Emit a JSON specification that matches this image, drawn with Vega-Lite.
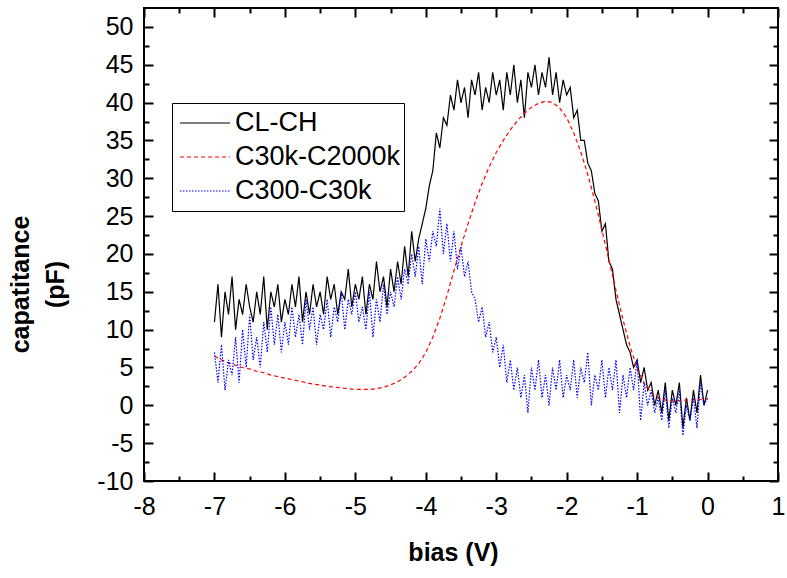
{
"$schema": "https://vega.github.io/schema/vega-lite/v6.json",
"autosize": {"type": "none"},
"width": 634,
"height": 473,
"padding": {"left": 144, "top": 8, "right": 9, "bottom": 97},
"background": "white",
"config": {
  "view": {"stroke": "black", "strokeWidth": 2},
  "font": "Liberation Sans",
  "axis": {"grid": false, "labelColor": "black", "labelFont": "Liberation Sans", "labelFontSize": 25, "titleFont": "Liberation Sans", "titleColor": "black", "labelFlush": false, "labelOverlap": false, "labelBound": false}
},
"data": {"values": [
{"s":"CL-CH","x":-7,"c":11},{"s":"CL-CH","x":-6.95,"c":16},{"s":"CL-CH","x":-6.9,"c":9},{"s":"CL-CH","x":-6.85,"c":15},{"s":"CL-CH","x":-6.8,"c":12},{"s":"CL-CH","x":-6.75,"c":17},{"s":"CL-CH","x":-6.7,"c":10},{"s":"CL-CH","x":-6.65,"c":14},{"s":"CL-CH","x":-6.6,"c":12},{"s":"CL-CH","x":-6.55,"c":16},
{"s":"CL-CH","x":-6.5,"c":13},{"s":"CL-CH","x":-6.45,"c":11},{"s":"CL-CH","x":-6.4,"c":15},{"s":"CL-CH","x":-6.35,"c":12},{"s":"CL-CH","x":-6.3,"c":17},{"s":"CL-CH","x":-6.25,"c":10},{"s":"CL-CH","x":-6.2,"c":15},{"s":"CL-CH","x":-6.15,"c":13},{"s":"CL-CH","x":-6.1,"c":16},{"s":"CL-CH","x":-6.05,"c":11},
{"s":"CL-CH","x":-6,"c":14},{"s":"CL-CH","x":-5.95,"c":12},{"s":"CL-CH","x":-5.9,"c":16},{"s":"CL-CH","x":-5.85,"c":13},{"s":"CL-CH","x":-5.8,"c":17},{"s":"CL-CH","x":-5.75,"c":11},{"s":"CL-CH","x":-5.7,"c":15},{"s":"CL-CH","x":-5.65,"c":12},{"s":"CL-CH","x":-5.6,"c":16},{"s":"CL-CH","x":-5.55,"c":13},
{"s":"CL-CH","x":-5.5,"c":15},{"s":"CL-CH","x":-5.45,"c":12},{"s":"CL-CH","x":-5.4,"c":17},{"s":"CL-CH","x":-5.35,"c":14},{"s":"CL-CH","x":-5.3,"c":16},{"s":"CL-CH","x":-5.25,"c":12},{"s":"CL-CH","x":-5.2,"c":15},{"s":"CL-CH","x":-5.15,"c":14},{"s":"CL-CH","x":-5.1,"c":18},{"s":"CL-CH","x":-5.05,"c":13},
{"s":"CL-CH","x":-5,"c":16},{"s":"CL-CH","x":-4.95,"c":14},{"s":"CL-CH","x":-4.9,"c":17},{"s":"CL-CH","x":-4.85,"c":12},{"s":"CL-CH","x":-4.8,"c":16},{"s":"CL-CH","x":-4.75,"c":14},{"s":"CL-CH","x":-4.7,"c":19},{"s":"CL-CH","x":-4.65,"c":15},{"s":"CL-CH","x":-4.6,"c":17},{"s":"CL-CH","x":-4.55,"c":13},
{"s":"CL-CH","x":-4.5,"c":18},{"s":"CL-CH","x":-4.45,"c":15},{"s":"CL-CH","x":-4.4,"c":19},{"s":"CL-CH","x":-4.35,"c":16},{"s":"CL-CH","x":-4.3,"c":21},{"s":"CL-CH","x":-4.25,"c":17},{"s":"CL-CH","x":-4.2,"c":23},{"s":"CL-CH","x":-4.15,"c":19},{"s":"CL-CH","x":-4.1,"c":22},{"s":"CL-CH","x":-4.05,"c":24},
{"s":"CL-CH","x":-4,"c":26},{"s":"CL-CH","x":-3.95,"c":29},{"s":"CL-CH","x":-3.9,"c":31},{"s":"CL-CH","x":-3.85,"c":36},{"s":"CL-CH","x":-3.8,"c":34},{"s":"CL-CH","x":-3.75,"c":38},{"s":"CL-CH","x":-3.7,"c":37},{"s":"CL-CH","x":-3.65,"c":41},{"s":"CL-CH","x":-3.6,"c":39},{"s":"CL-CH","x":-3.55,"c":43},
{"s":"CL-CH","x":-3.5,"c":40},{"s":"CL-CH","x":-3.45,"c":42},{"s":"CL-CH","x":-3.4,"c":38},{"s":"CL-CH","x":-3.35,"c":43},{"s":"CL-CH","x":-3.3,"c":41},{"s":"CL-CH","x":-3.25,"c":44},{"s":"CL-CH","x":-3.2,"c":39},{"s":"CL-CH","x":-3.15,"c":42},{"s":"CL-CH","x":-3.1,"c":40},{"s":"CL-CH","x":-3.05,"c":44},
{"s":"CL-CH","x":-3,"c":41},{"s":"CL-CH","x":-2.95,"c":43},{"s":"CL-CH","x":-2.9,"c":39},{"s":"CL-CH","x":-2.85,"c":44},{"s":"CL-CH","x":-2.8,"c":41},{"s":"CL-CH","x":-2.75,"c":45},{"s":"CL-CH","x":-2.7,"c":40},{"s":"CL-CH","x":-2.65,"c":43},{"s":"CL-CH","x":-2.6,"c":38},{"s":"CL-CH","x":-2.55,"c":44},
{"s":"CL-CH","x":-2.5,"c":42},{"s":"CL-CH","x":-2.45,"c":45},{"s":"CL-CH","x":-2.4,"c":41},{"s":"CL-CH","x":-2.35,"c":44},{"s":"CL-CH","x":-2.3,"c":42},{"s":"CL-CH","x":-2.25,"c":46},{"s":"CL-CH","x":-2.2,"c":41},{"s":"CL-CH","x":-2.15,"c":44},{"s":"CL-CH","x":-2.1,"c":40},{"s":"CL-CH","x":-2.05,"c":43},
{"s":"CL-CH","x":-2,"c":41},{"s":"CL-CH","x":-1.95,"c":42},{"s":"CL-CH","x":-1.9,"c":38},{"s":"CL-CH","x":-1.85,"c":39},{"s":"CL-CH","x":-1.8,"c":35},{"s":"CL-CH","x":-1.75,"c":35},{"s":"CL-CH","x":-1.7,"c":32},{"s":"CL-CH","x":-1.65,"c":31},{"s":"CL-CH","x":-1.6,"c":28},{"s":"CL-CH","x":-1.55,"c":27},
{"s":"CL-CH","x":-1.5,"c":23},{"s":"CL-CH","x":-1.45,"c":24},{"s":"CL-CH","x":-1.4,"c":19},{"s":"CL-CH","x":-1.35,"c":18},{"s":"CL-CH","x":-1.3,"c":14},{"s":"CL-CH","x":-1.25,"c":12},{"s":"CL-CH","x":-1.2,"c":10},{"s":"CL-CH","x":-1.15,"c":8},{"s":"CL-CH","x":-1.1,"c":7},{"s":"CL-CH","x":-1.05,"c":5},
{"s":"CL-CH","x":-1,"c":6},{"s":"CL-CH","x":-0.95,"c":3},{"s":"CL-CH","x":-0.9,"c":5},{"s":"CL-CH","x":-0.85,"c":2},{"s":"CL-CH","x":-0.8,"c":3},{"s":"CL-CH","x":-0.75,"c":0},{"s":"CL-CH","x":-0.7,"c":2},{"s":"CL-CH","x":-0.65,"c":-1},{"s":"CL-CH","x":-0.6,"c":3},{"s":"CL-CH","x":-0.55,"c":-2},
{"s":"CL-CH","x":-0.5,"c":2},{"s":"CL-CH","x":-0.45,"c":0},{"s":"CL-CH","x":-0.4,"c":3},{"s":"CL-CH","x":-0.35,"c":-3},{"s":"CL-CH","x":-0.3,"c":1},{"s":"CL-CH","x":-0.25,"c":-2},{"s":"CL-CH","x":-0.2,"c":2},{"s":"CL-CH","x":-0.15,"c":-1},{"s":"CL-CH","x":-0.1,"c":4},{"s":"CL-CH","x":-0.05,"c":0},
{"s":"CL-CH","x":0,"c":2},
{"s":"C30k-C2000k","x":-7,"c":6.5},{"s":"C30k-C2000k","x":-6.9,"c":6.0},{"s":"C30k-C2000k","x":-6.8,"c":5.6},{"s":"C30k-C2000k","x":-6.7,"c":5.3},{"s":"C30k-C2000k","x":-6.6,"c":5.0},{"s":"C30k-C2000k","x":-6.5,"c":4.8},{"s":"C30k-C2000k","x":-6.4,"c":4.5},{"s":"C30k-C2000k","x":-6.3,"c":4.3},{"s":"C30k-C2000k","x":-6.2,"c":4.0},{"s":"C30k-C2000k","x":-6.1,"c":3.8},
{"s":"C30k-C2000k","x":-6,"c":3.6},{"s":"C30k-C2000k","x":-5.9,"c":3.4},{"s":"C30k-C2000k","x":-5.8,"c":3.2},{"s":"C30k-C2000k","x":-5.7,"c":3.0},{"s":"C30k-C2000k","x":-5.6,"c":2.8},{"s":"C30k-C2000k","x":-5.5,"c":2.7},{"s":"C30k-C2000k","x":-5.4,"c":2.5},{"s":"C30k-C2000k","x":-5.3,"c":2.4},{"s":"C30k-C2000k","x":-5.2,"c":2.3},{"s":"C30k-C2000k","x":-5.1,"c":2.2},
{"s":"C30k-C2000k","x":-5,"c":2.1},{"s":"C30k-C2000k","x":-4.9,"c":2.1},{"s":"C30k-C2000k","x":-4.8,"c":2.1},{"s":"C30k-C2000k","x":-4.7,"c":2.2},{"s":"C30k-C2000k","x":-4.6,"c":2.4},{"s":"C30k-C2000k","x":-4.5,"c":2.7},{"s":"C30k-C2000k","x":-4.4,"c":3.1},{"s":"C30k-C2000k","x":-4.3,"c":3.7},{"s":"C30k-C2000k","x":-4.2,"c":4.5},{"s":"C30k-C2000k","x":-4.1,"c":5.5},
{"s":"C30k-C2000k","x":-4,"c":7.0},{"s":"C30k-C2000k","x":-3.9,"c":9.0},{"s":"C30k-C2000k","x":-3.8,"c":11.5},{"s":"C30k-C2000k","x":-3.7,"c":14.5},{"s":"C30k-C2000k","x":-3.6,"c":17.8},{"s":"C30k-C2000k","x":-3.5,"c":21.0},{"s":"C30k-C2000k","x":-3.4,"c":24.0},{"s":"C30k-C2000k","x":-3.3,"c":26.8},{"s":"C30k-C2000k","x":-3.2,"c":29.3},{"s":"C30k-C2000k","x":-3.1,"c":31.5},
{"s":"C30k-C2000k","x":-3,"c":33.4},{"s":"C30k-C2000k","x":-2.9,"c":35.0},{"s":"C30k-C2000k","x":-2.8,"c":36.4},{"s":"C30k-C2000k","x":-2.7,"c":37.6},{"s":"C30k-C2000k","x":-2.6,"c":38.6},{"s":"C30k-C2000k","x":-2.5,"c":39.4},{"s":"C30k-C2000k","x":-2.4,"c":39.9},{"s":"C30k-C2000k","x":-2.3,"c":40.2},{"s":"C30k-C2000k","x":-2.2,"c":40.0},{"s":"C30k-C2000k","x":-2.1,"c":39.3},
{"s":"C30k-C2000k","x":-2,"c":38.0},{"s":"C30k-C2000k","x":-1.9,"c":36.0},{"s":"C30k-C2000k","x":-1.8,"c":33.5},{"s":"C30k-C2000k","x":-1.7,"c":30.5},{"s":"C30k-C2000k","x":-1.6,"c":27.0},{"s":"C30k-C2000k","x":-1.5,"c":23.2},{"s":"C30k-C2000k","x":-1.4,"c":19.2},{"s":"C30k-C2000k","x":-1.3,"c":15.2},{"s":"C30k-C2000k","x":-1.2,"c":11.3},{"s":"C30k-C2000k","x":-1.1,"c":7.8},
{"s":"C30k-C2000k","x":-1,"c":4.9},{"s":"C30k-C2000k","x":-0.9,"c":2.9},{"s":"C30k-C2000k","x":-0.8,"c":1.6},{"s":"C30k-C2000k","x":-0.7,"c":1.0},{"s":"C30k-C2000k","x":-0.6,"c":0.7},{"s":"C30k-C2000k","x":-0.5,"c":0.6},{"s":"C30k-C2000k","x":-0.4,"c":0.6},{"s":"C30k-C2000k","x":-0.3,"c":0.7},{"s":"C30k-C2000k","x":-0.2,"c":0.7},{"s":"C30k-C2000k","x":-0.1,"c":0.8},
{"s":"C30k-C2000k","x":0,"c":0.8},
{"s":"C300-C30k","x":-7,"c":7},{"s":"C300-C30k","x":-6.95,"c":3},{"s":"C300-C30k","x":-6.9,"c":8},{"s":"C300-C30k","x":-6.85,"c":2},{"s":"C300-C30k","x":-6.8,"c":6},{"s":"C300-C30k","x":-6.75,"c":4},{"s":"C300-C30k","x":-6.7,"c":9},{"s":"C300-C30k","x":-6.65,"c":3},{"s":"C300-C30k","x":-6.6,"c":10},{"s":"C300-C30k","x":-6.55,"c":5},
{"s":"C300-C30k","x":-6.5,"c":12},{"s":"C300-C30k","x":-6.45,"c":6},{"s":"C300-C30k","x":-6.4,"c":9},{"s":"C300-C30k","x":-6.35,"c":5},{"s":"C300-C30k","x":-6.3,"c":11},{"s":"C300-C30k","x":-6.25,"c":7},{"s":"C300-C30k","x":-6.2,"c":13},{"s":"C300-C30k","x":-6.15,"c":8},{"s":"C300-C30k","x":-6.1,"c":12},{"s":"C300-C30k","x":-6.05,"c":7},
{"s":"C300-C30k","x":-6,"c":11},{"s":"C300-C30k","x":-5.95,"c":8},{"s":"C300-C30k","x":-5.9,"c":13},{"s":"C300-C30k","x":-5.85,"c":9},{"s":"C300-C30k","x":-5.8,"c":12},{"s":"C300-C30k","x":-5.75,"c":8},{"s":"C300-C30k","x":-5.7,"c":14},{"s":"C300-C30k","x":-5.65,"c":10},{"s":"C300-C30k","x":-5.6,"c":13},{"s":"C300-C30k","x":-5.55,"c":8},
{"s":"C300-C30k","x":-5.5,"c":12},{"s":"C300-C30k","x":-5.45,"c":10},{"s":"C300-C30k","x":-5.4,"c":14},{"s":"C300-C30k","x":-5.35,"c":9},{"s":"C300-C30k","x":-5.3,"c":13},{"s":"C300-C30k","x":-5.25,"c":11},{"s":"C300-C30k","x":-5.2,"c":15},{"s":"C300-C30k","x":-5.15,"c":10},{"s":"C300-C30k","x":-5.1,"c":14},{"s":"C300-C30k","x":-5.05,"c":12},
{"s":"C300-C30k","x":-5,"c":15},{"s":"C300-C30k","x":-4.95,"c":11},{"s":"C300-C30k","x":-4.9,"c":13},{"s":"C300-C30k","x":-4.85,"c":10},{"s":"C300-C30k","x":-4.8,"c":15},{"s":"C300-C30k","x":-4.75,"c":9},{"s":"C300-C30k","x":-4.7,"c":14},{"s":"C300-C30k","x":-4.65,"c":11},{"s":"C300-C30k","x":-4.6,"c":16},{"s":"C300-C30k","x":-4.55,"c":12},
{"s":"C300-C30k","x":-4.5,"c":15},{"s":"C300-C30k","x":-4.45,"c":13},{"s":"C300-C30k","x":-4.4,"c":17},{"s":"C300-C30k","x":-4.35,"c":14},{"s":"C300-C30k","x":-4.3,"c":18},{"s":"C300-C30k","x":-4.25,"c":16},{"s":"C300-C30k","x":-4.2,"c":20},{"s":"C300-C30k","x":-4.15,"c":17},{"s":"C300-C30k","x":-4.1,"c":21},{"s":"C300-C30k","x":-4.05,"c":16},
{"s":"C300-C30k","x":-4,"c":22},{"s":"C300-C30k","x":-3.95,"c":19},{"s":"C300-C30k","x":-3.9,"c":23},{"s":"C300-C30k","x":-3.85,"c":21},{"s":"C300-C30k","x":-3.8,"c":26},{"s":"C300-C30k","x":-3.75,"c":20},{"s":"C300-C30k","x":-3.7,"c":24},{"s":"C300-C30k","x":-3.65,"c":19},{"s":"C300-C30k","x":-3.6,"c":23},{"s":"C300-C30k","x":-3.55,"c":18},
{"s":"C300-C30k","x":-3.5,"c":21},{"s":"C300-C30k","x":-3.45,"c":17},{"s":"C300-C30k","x":-3.4,"c":19},{"s":"C300-C30k","x":-3.35,"c":15},{"s":"C300-C30k","x":-3.3,"c":14},{"s":"C300-C30k","x":-3.25,"c":11},{"s":"C300-C30k","x":-3.2,"c":13},{"s":"C300-C30k","x":-3.15,"c":9},{"s":"C300-C30k","x":-3.1,"c":11},{"s":"C300-C30k","x":-3.05,"c":7},
{"s":"C300-C30k","x":-3,"c":9},{"s":"C300-C30k","x":-2.95,"c":5},{"s":"C300-C30k","x":-2.9,"c":8},{"s":"C300-C30k","x":-2.85,"c":3},{"s":"C300-C30k","x":-2.8,"c":6},{"s":"C300-C30k","x":-2.75,"c":2},{"s":"C300-C30k","x":-2.7,"c":5},{"s":"C300-C30k","x":-2.65,"c":1},{"s":"C300-C30k","x":-2.6,"c":4},{"s":"C300-C30k","x":-2.55,"c":-1},
{"s":"C300-C30k","x":-2.5,"c":5},{"s":"C300-C30k","x":-2.45,"c":2},{"s":"C300-C30k","x":-2.4,"c":6},{"s":"C300-C30k","x":-2.35,"c":1},{"s":"C300-C30k","x":-2.3,"c":4},{"s":"C300-C30k","x":-2.25,"c":0},{"s":"C300-C30k","x":-2.2,"c":5},{"s":"C300-C30k","x":-2.15,"c":2},{"s":"C300-C30k","x":-2.1,"c":6},{"s":"C300-C30k","x":-2.05,"c":1},
{"s":"C300-C30k","x":-2,"c":4},{"s":"C300-C30k","x":-1.95,"c":2},{"s":"C300-C30k","x":-1.9,"c":6},{"s":"C300-C30k","x":-1.85,"c":1},{"s":"C300-C30k","x":-1.8,"c":5},{"s":"C300-C30k","x":-1.75,"c":3},{"s":"C300-C30k","x":-1.7,"c":7},{"s":"C300-C30k","x":-1.65,"c":0},{"s":"C300-C30k","x":-1.6,"c":4},{"s":"C300-C30k","x":-1.55,"c":2},
{"s":"C300-C30k","x":-1.5,"c":6},{"s":"C300-C30k","x":-1.45,"c":1},{"s":"C300-C30k","x":-1.4,"c":5},{"s":"C300-C30k","x":-1.35,"c":2},{"s":"C300-C30k","x":-1.3,"c":6},{"s":"C300-C30k","x":-1.25,"c":-1},{"s":"C300-C30k","x":-1.2,"c":4},{"s":"C300-C30k","x":-1.15,"c":1},{"s":"C300-C30k","x":-1.1,"c":5},{"s":"C300-C30k","x":-1.05,"c":2},
{"s":"C300-C30k","x":-1,"c":6},{"s":"C300-C30k","x":-0.95,"c":-2},{"s":"C300-C30k","x":-0.9,"c":3},{"s":"C300-C30k","x":-0.85,"c":0},{"s":"C300-C30k","x":-0.8,"c":2},{"s":"C300-C30k","x":-0.75,"c":-1},{"s":"C300-C30k","x":-0.7,"c":1},{"s":"C300-C30k","x":-0.65,"c":-2},{"s":"C300-C30k","x":-0.6,"c":2},{"s":"C300-C30k","x":-0.55,"c":-3},
{"s":"C300-C30k","x":-0.5,"c":1},{"s":"C300-C30k","x":-0.45,"c":-1},{"s":"C300-C30k","x":-0.4,"c":2},{"s":"C300-C30k","x":-0.35,"c":-4},{"s":"C300-C30k","x":-0.3,"c":0},{"s":"C300-C30k","x":-0.25,"c":-2},{"s":"C300-C30k","x":-0.2,"c":1},{"s":"C300-C30k","x":-0.15,"c":-3},{"s":"C300-C30k","x":-0.1,"c":3},{"s":"C300-C30k","x":-0.05,"c":0},
{"s":"C300-C30k","x":0,"c":1}
]},
"resolve": {"axis": {"x": "independent", "y": "independent"}},
"layer": [
  {
    "transform": [{"filter": "datum.s === 'CL-CH' && datum.x <= -3.5"}],
    "mark": {"type": "line", "strokeWidth": 1.2},
    "encoding": {
      "x": {"field": "x", "type": "quantitative",
        "scale": {"domain": [-8, 1], "nice": false, "zero": false},
        "axis": {"orient": "bottom", "offset": -9, "tickColor": "black", "tickWidth": 2, "tickSize": 9, "domainOpacity": 0,
          "values": [-8,-7,-6,-5,-4,-3,-2,-1,0,1],
          "labelExpr": "'' + datum.value",
          "labelPadding": 13,
          "title": "bias (V)", "titleFontSize": 25, "titleFontWeight": "bold",
          "titleX": 309, "titleY": 88, "titleBaseline": "alphabetic", "titleAlign": "center"}},
      "y": {"field": "c", "type": "quantitative",
        "scale": {"domain": [-10, 52.5], "nice": false, "zero": false},
        "axis": {"orient": "left", "offset": -9, "tickColor": "black", "tickWidth": 2, "tickSize": 9, "domainOpacity": 0,
          "values": [-10,-5,0,5,10,15,20,25,30,35,40,45,50],
          "labelExpr": "'' + datum.value",
          "labelPadding": 11,
          "title": ["capatitance", "(pF)"], "titleFontSize": 25, "titleFontWeight": "bold",
          "titleLineHeight": 35, "titleAngle": 270, "titleX": -125, "titleY": 276,
          "titleBaseline": "alphabetic", "titleAlign": "center"}},
      "color": {"field": "s", "type": "nominal",
        "scale": {"domain": ["CL-CH", "C30k-C2000k", "C300-C30k"], "range": ["#000000", "#ff0000", "#0000ff"]},
        "legend": {"title": null, "orient": "none", "legendX": 28, "legendY": 95, "symbolType": "stroke", "symbolSize": 2500, "clipHeight": 34, "rowPadding": 0, "padding": 3, "symbolOffset": 4, "labelOffset": 4, "labelFontSize": 27, "labelFont": "Liberation Sans", "labelColor": "black", "labelLimit": 400, "strokeColor": "black", "fillColor": "white", "symbolStrokeWidth": 1.2,
          "encode": {"symbols": {"update": {"strokeDash": {"signal": "datum.value === 'C30k-C2000k' ? [4, 3] : datum.value === 'C300-C30k' ? [1.5, 1.5] : [1, 0]"}}}}}}
    }
  },
  {
    "transform": [{"filter": "datum.s === 'CL-CH' && datum.x >= -3.5"}],
    "mark": {"type": "line", "strokeWidth": 1.2},
    "encoding": {
      "x": {"field": "x", "type": "quantitative",
        "axis": {"orient": "top", "offset": -9, "tickColor": "black", "tickWidth": 2, "tickSize": 9, "domainOpacity": 0,
          "values": [-8,-7,-6,-5,-4,-3,-2,-1,0,1], "labels": false, "title": null}},
      "y": {"field": "c", "type": "quantitative",
        "axis": {"orient": "right", "offset": -9, "tickColor": "black", "tickWidth": 2, "tickSize": 9, "domainOpacity": 0,
          "values": [-10,-5,0,5,10,15,20,25,30,35,40,45,50], "labels": false, "title": null}},
      "color": {"field": "s", "type": "nominal"}
    }
  },
  {
    "transform": [{"filter": "datum.s === 'C30k-C2000k'"}],
    "mark": {"type": "line", "strokeWidth": 1.2, "strokeDash": [4, 3]},
    "encoding": {
      "x": {"field": "x", "type": "quantitative",
        "axis": {"orient": "bottom", "offset": -5, "tickColor": "black", "tickWidth": 2, "tickSize": 5, "domainOpacity": 0,
          "values": [-7.5,-6.5,-5.5,-4.5,-3.5,-2.5,-1.5,-0.5,0.5], "labels": false, "title": null}},
      "y": {"field": "c", "type": "quantitative",
        "axis": {"orient": "left", "offset": -5, "tickColor": "black", "tickWidth": 2, "tickSize": 5, "domainOpacity": 0,
          "values": [-7.5,-2.5,2.5,7.5,12.5,17.5,22.5,27.5,32.5,37.5,42.5,47.5], "labels": false, "title": null}},
      "color": {"field": "s", "type": "nominal"}
    }
  },
  {
    "transform": [{"filter": "datum.s === 'C300-C30k'"}],
    "mark": {"type": "line", "strokeWidth": 1.2, "strokeDash": [1.5, 1.5]},
    "encoding": {
      "x": {"field": "x", "type": "quantitative",
        "axis": {"orient": "top", "offset": -5, "tickColor": "black", "tickWidth": 2, "tickSize": 5, "domainOpacity": 0,
          "values": [-7.5,-6.5,-5.5,-4.5,-3.5,-2.5,-1.5,-0.5,0.5], "labels": false, "title": null}},
      "y": {"field": "c", "type": "quantitative",
        "axis": {"orient": "right", "offset": -5, "tickColor": "black", "tickWidth": 2, "tickSize": 5, "domainOpacity": 0,
          "values": [-7.5,-2.5,2.5,7.5,12.5,17.5,22.5,27.5,32.5,37.5,42.5,47.5], "labels": false, "title": null}},
      "color": {"field": "s", "type": "nominal"}
    }
  }
]
}
